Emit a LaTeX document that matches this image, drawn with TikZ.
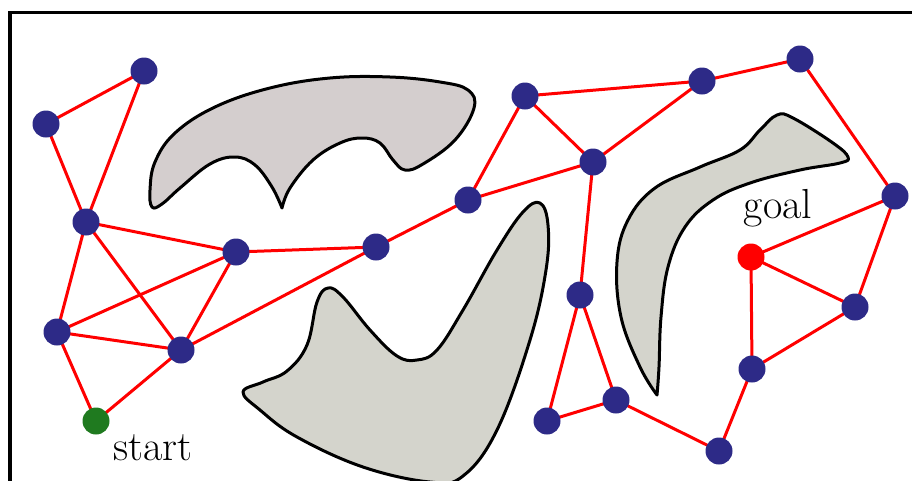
\documentclass[tikz,border=0pt]{standalone}
\usetikzlibrary{backgrounds}
\begin{document}
\begin{tikzpicture}[x=1pt,y=-1pt,
  vtx/.style={circle,fill=navy,inner sep=0pt,minimum size=27pt},
  edge/.style={draw=red,line width=3pt},
  obst/.style={draw=black,line width=3pt,line join=round},
  lbl/.style={font=\fontsize{42}{42}\selectfont,anchor=base}]
\definecolor{navy}{RGB}{45,42,135}
\definecolor{greenv}{RGB}{31,122,31}
\definecolor{obsA}{RGB}{212,206,206}
\definecolor{obsB}{RGB}{212,212,204}
\useasboundingbox (0,0) rectangle (912,480);
\draw[line width=3.5pt] (10,12.5) rectangle (930,500);
% obstacles
\draw[obst,fill=obsA] plot[smooth,tension=0.65] coordinates {(282,208) (290,188) (313,160) (340,143) (362,138) (380,143) (393,160) (405,170) (423,164) (455,140) (474,108) (468,90) (440,82) (390,77) (330,78) (270,88) (215,107) (175,133) (155,162) (150,190) (152,207) (162,204) (180,188) (210,164) (235,157) (255,165) (272,187) (282,208)} -- cycle;
\draw[obst,fill=obsB] plot[smooth cycle,tension=0.65] coordinates {(243,392) (263,382) (287,371) (307,345) (317,302) (328,288) (343,297) (370,330) (397,356) (417,360) (437,350) (463,310) (497,250) (523,212) (540,203) (548,225) (546,270) (530,340) (497,430) (463,476) (430,482) (363,467) (297,437) (260,410)};
\draw[obst,fill=obsB] plot[smooth,tension=0.65] coordinates {(657,395) (640,367) (621,317) (617,262) (628,220) (655,188) (700,167) (740,150) (760,130) (777,115) (793,118) (833,143) (848,157) (840,163) (800,170) (750,183) (713,200) (685,227) (668,267) (661,317) (659,367) (657,395)} -- cycle;
% vertices
\node[vtx] (a1) at (144,71) {};
\node[vtx] (a2) at (46,124) {};
\node[vtx] (a3) at (86,222) {};
\node[vtx] (a4) at (236,252) {};
\node[vtx] (a5) at (57,332) {};
\node[vtx] (a6) at (181,350) {};
\node[vtx,fill=greenv] (st) at (96,421) {};
\node[vtx] (c1) at (376,247) {};
\node[vtx] (b5) at (468,200) {};
\node[vtx] (b1) at (525,96) {};
\node[vtx] (b2) at (702,81) {};
\node[vtx] (b3) at (800,59) {};
\node[vtx] (b4) at (593,162) {};
\node[vtx] (b6) at (895,196) {};
\node[vtx,fill=red] (gl) at (751,257) {};
\node[vtx] (b7) at (580,295) {};
\node[vtx] (b8) at (855,307) {};
\node[vtx] (b9) at (752,369) {};
\node[vtx] (b10) at (616,400) {};
\node[vtx] (b11) at (547,421) {};
\node[vtx] (b12) at (719,451) {};
% edges
\begin{pgfonlayer}{background}
\foreach \u/\v in {a2/a1,a1/a3,a2/a3,a3/a4,a3/a5,a3/a6,a5/a4,a4/a6,a5/a6,a5/st,st/a6,a6/c1,a4/c1,c1/b5,b5/b1,b5/b4,b1/b4,b1/b2,b4/b2,b2/b3,b3/b6,b6/gl,b6/b8,gl/b8,gl/b9,b8/b9,b9/b12,b12/b10,b10/b11,b11/b7,b7/b10,b7/b4}
  \draw[edge] (\u.center) -- (\v.center);
\end{pgfonlayer}
% labels
\node[lbl] (goaltxt) at (778,218) {goal};
\node[lbl] (starttxt) at (153,460) {start};
\end{tikzpicture}
\end{document}
